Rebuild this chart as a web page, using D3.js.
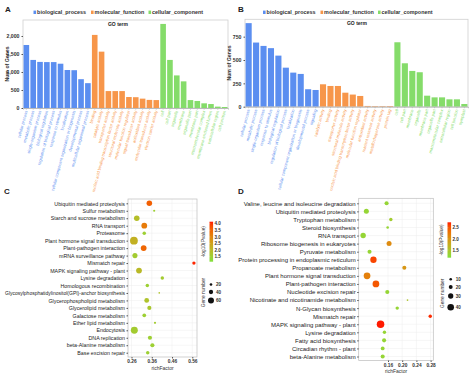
<!DOCTYPE html>
<html>
<head>
<meta charset="utf-8">
<script src="https://cdn.jsdelivr.net/npm/d3@7"></script>
<style>
  body { margin: 0; background: #fff; }
  svg { display: block; font-family: "Liberation Sans", Arial, sans-serif; }
</style>
</head>
<body>
<div id="chart"></div>
<script>
// ---------- GO bar data ----------
const categories = ["biological_process", "molecular_function", "cellular_component"];
const catColors = ["#5b8ef0", "#f7964a", "#85dc6a"];

const termsA_bp = ["cellular process", "metabolic process", "single-organism process", "biological regulation",
  "regulation of biological process", "response to stimulus", "localization",
  "cellular component organization or biogenesis", "developmental process", "multicellular organismal process"];
const termsA_mf = ["binding", "catalytic activity", "transporter activity", "nucleic acid binding transcription factor activity",
  "structural molecule activity", "molecular function regulator", "signal transducer activity",
  "antioxidant activity", "molecular transducer activity", "electron carrier activity"];
const termsA_cc = ["cell", "cell part", "organelle", "membrane", "organelle part", "membrane part",
  "macromolecular complex", "membrane-enclosed lumen", "extracellular region", "cell junction"];
const valuesA_bp = [1750, 1335, 1280, 1275, 1275, 1230, 1055, 1050, 800, 690];
const valuesA_mf = [2030, 1565, 470, 470, 470, 305, 300, 260, 225, 220];
const valuesA_cc = [2335, 1335, 905, 740, 220, 195, 130, 110, 38, 28];

const termsB_bp = ["cellular process", "metabolic process", "single-organism process", "response to stimulus",
  "biological regulation", "regulation of biological process", "localization",
  "cellular component organization or biogenesis", "developmental process", "signaling"];
const termsB_mf = ["catalytic activity", "binding", "transporter activity", "structural molecule activity",
  "nucleic acid binding transcription factor activity", "molecular function regulator",
  "antioxidant activity", "nutrient reservoir activity", "metallochaperone activity", "protein tag"];
const termsB_cc = ["cell", "cell part", "membrane", "organelle", "membrane part", "organelle part",
  "macromolecular complex", "extracellular region", "cell junction", "symplast"];
const valuesB_bp = [895, 687, 651, 627, 547, 418, 365, 351, 187, 179];
const valuesB_mf = [240, 222, 222, 150, 130, 115, 8, 6, 6, 7];
const valuesB_cc = [690, 465, 383, 369, 118, 100, 100, 79, 79, 29];

const ticksA = [0, 500, 1000, 1500, 2000];
const ticksB = [0, 250, 500, 750];

// ---------- KEGG bubble data ----------
const pathwaysC = ["Ubiquitin mediated proteolysis", "Sulfur metabolism", "Starch and sucrose metabolism",
  "RNA transport", "Proteasome", "Plant hormone signal transduction", "Plant-pathogen interaction",
  "mRNA surveillance pathway", "Mismatch repair", "MAPK signaling pathway - plant", "Lysine degradation",
  "Homologous recombination", "Glycosylphosphatidylinositol(GPI)-anchor biosynthesis",
  "Glycerophospholipid metabolism", "Glycerolipid metabolism", "Galactose metabolism",
  "Ether lipid metabolism", "Endocytosis", "DNA replication", "beta-Alanine metabolism", "Base excision repair"];
const richC = [0.348, 0.372, 0.286, 0.323, 0.323, 0.272, 0.320, 0.277, 0.568, 0.297, 0.412,
  0.338, 0.397, 0.335, 0.348, 0.323, 0.376, 0.274, 0.351, 0.363, 0.340];
const genesC = [55, 14, 55, 58, 30, 82, 58, 50, 28, 58, 30, 30, 8, 46, 38, 33, 14, 72, 38, 38, 30];
const pvalC = [3.6, 1.5, 1.9, 3.2, 1.5, 2.2, 3.5, 1.6, 4.1, 2.0, 1.6, 1.5, 1.8, 1.8, 1.7, 1.5, 1.6, 1.6, 1.5, 1.5, 1.5];
const xTicksC = [0.26, 0.36, 0.46, 0.56];
const pTicksC = [1.5, 2.0, 2.5, 3.0, 3.5, 4.0];
const sizeTicksC = [20, 40, 60];

const pathwaysD = ["Valine, leucine and isoleucine degradation", "Ubiquitin mediated proteolysis",
  "Tryptophan metabolism", "Steroid biosynthesis", "RNA transport", "Ribosome biogenesis in eukaryotes",
  "Pyruvate metabolism", "Protein processing in endoplasmic reticulum", "Propanoate metabolism",
  "Plant hormone signal transduction", "Plant-pathogen interaction", "Nucleotide excision repair",
  "Nicotinate and nicotinamide metabolism", "N-Glycan biosynthesis", "Mismatch repair",
  "MAPK signaling pathway - plant", "Lysine degradation", "Fatty acid biosynthesis",
  "Circadian rhythm - plant", "beta-Alanine metabolism"];
const richD = [0.156, 0.099, 0.168, 0.159, 0.090, 0.163, 0.108, 0.119, 0.206, 0.101, 0.126,
  0.158, 0.215, 0.186, 0.279, 0.139, 0.150, 0.149, 0.145, 0.145];
const genesD = [21, 28, 16, 10, 31, 28, 21, 38, 21, 41, 41, 21, 3, 16, 16, 47, 16, 21, 19, 21];
const pvalD = [1.3, 1.3, 1.4, 1.3, 1.3, 2.1, 1.3, 2.6, 2.0, 2.2, 2.5, 1.3, 1.5, 1.3, 2.7, 2.75, 1.3, 1.3, 1.3, 1.3];
const xTicksD = [0.16, 0.20, 0.24, 0.28];
const pTicksD = [1.5, 2.0, 2.5];
const sizeTicksD = [10, 20, 30, 40];

const width = 474, height = 375;
const svg = d3.select("#chart").append("svg")
  .attr("width", width).attr("height", height)
  .attr("viewBox", [0, 0, width, height]);

// panel letters
[["A", 5, 12], ["B", 238, 12], ["C", 4, 194], ["D", 238, 194]].forEach(([t, x, y]) => {
  svg.append("text").attr("x", x).attr("y", y).attr("font-size", 8).attr("font-weight", "bold")
    .attr("fill", "#222").text(t);
});

// ---------- bar panels ----------
function barPanel(opts) {
  const { left, right, top, bottom, ymax, ticks, bp, mf, cc, tbp, tmf, tcc, legendX, titleX } = opts;
  const rows = [];
  [tbp, tmf, tcc].forEach((terms, ci) => {
    const vals = [bp, mf, cc][ci];
    terms.forEach((t, i) => rows.push({ term: t, value: vals[i], cat: ci, key: ci + ":" + t }));
  });

  const x = d3.scaleBand().domain(rows.map(d => d.key)).range([left, right]).paddingInner(0.18).paddingOuter(0.08);
  const y = d3.scaleLinear().domain([0, ymax]).range([bottom, top]);
  const g = svg.append("g");

  // legend
  const lg = g.append("g").attr("transform", `translate(${legendX},14)`);
  let lx = 0;
  categories.forEach((c, i) => {
    lg.append("rect").attr("x", lx).attr("y", -3.4).attr("width", 2.6).attr("height", 3.4).attr("fill", catColors[i]);
    lg.append("text").attr("x", lx + 3.6).attr("y", 0).attr("font-size", 5.4).attr("font-weight", "bold")
      .attr("fill", "#333").text(c);
    lx += 57.5;
  });

  // frame
  g.append("rect").attr("x", left).attr("y", top).attr("width", right - left).attr("height", bottom - top)
    .attr("fill", "none").attr("stroke", "#d0d0d0").attr("stroke-width", 0.8);
  g.append("text").attr("x", titleX).attr("y", top + 5.5).attr("text-anchor", "middle")
    .attr("font-size", 5).attr("font-weight", "bold").attr("fill", "#222").text("GO term");

  g.selectAll("rect.bar").data(rows).join("rect").attr("class", "bar")
    .attr("x", d => x(d.key)).attr("width", x.bandwidth())
    .attr("y", d => y(d.value)).attr("height", d => y(0) - y(d.value))
    .attr("fill", d => catColors[d.cat]);

  // y axis
  const ya = g.append("g").attr("transform", `translate(${left},0)`)
    .call(d3.axisLeft(y).tickValues(ticks).tickSize(1.5).tickPadding(2));
  ya.select(".domain").remove();
  ya.selectAll("line").attr("stroke", "#555");
  ya.selectAll("text").attr("font-size", 5.2).attr("font-weight", "bold").attr("fill", "#333")
    .attr("font-family", "Liberation Sans, Arial, sans-serif");
  g.append("text").attr("transform", `translate(${left - 14},${(top + bottom) / 2}) rotate(-90)`)
    .attr("text-anchor", "middle").attr("font-size", 5.2).attr("font-weight", "bold").attr("fill", "#333")
    .text("Num of Genes");

  // x labels
  const xa = g.append("g").attr("transform", `translate(0,${bottom})`)
    .call(d3.axisBottom(x).tickSize(1.5).tickFormat(k => k.split(":")[1]));
  xa.select(".domain").attr("stroke", "#bbb");
  xa.selectAll("line").attr("stroke", "#bbb");
  xa.selectAll("text")
    .attr("font-size", 4.1).attr("font-family", "Liberation Sans, Arial, sans-serif")
    .attr("fill", k => catColors[+k.split(":")[0]])
    .attr("text-anchor", "end").attr("dy", 0).attr("dx", 0)
    .attr("transform", "translate(1.2,3) rotate(-75)")
    .attr("y", 0).attr("x", 0);
}

barPanel({ left: 23, right: 228, top: 20, bottom: 108, ymax: 2444, ticks: ticksA,
  bp: valuesA_bp, mf: valuesA_mf, cc: valuesA_cc, tbp: termsA_bp, tmf: termsA_mf, tcc: termsA_cc,
  legendX: 33.5, titleX: 118 });
barPanel({ left: 245, right: 468, top: 19.3, bottom: 106.7, ymax: 936, ticks: ticksB,
  bp: valuesB_bp, mf: valuesB_mf, cc: valuesB_cc, tbp: termsB_bp, tmf: termsB_mf, tcc: termsB_cc,
  legendX: 263, titleX: 357 });

// ---------- bubble panels ----------
const lowCol = "#80e03c", highCol = "#ff1a00";

function bubblePanel(opts) {
  const { paths, rich, genes, pval, xTicks, pTicks, sTicks, box, xDom, xRng, rowTop, rowBot,
    fontSize, labelRoom, pDom, cbar, sizeDom, sizeRng, sizeLeg } = opts;
  const g = svg.append("g");
  const x = d3.scaleLinear().domain(xDom).range(xRng);
  const y = d3.scalePoint().domain(paths).range([rowTop, rowBot]);
  const color = d3.scaleLinear().domain(pDom).range([lowCol, highCol]).interpolate(d3.interpolateLab).clamp(true);
  const r = d3.scaleLinear().domain(sizeDom).range(sizeRng);

  g.append("rect").attr("x", box[0]).attr("y", box[1]).attr("width", box[2] - box[0]).attr("height", box[3] - box[1])
    .attr("fill", "#fff");
  // grid
  g.append("g").selectAll("line").data(paths).join("line")
    .attr("x1", box[0]).attr("x2", box[2]).attr("y1", d => y(d)).attr("y2", d => y(d))
    .attr("stroke", "#ececec").attr("stroke-width", 0.5);
  g.append("g").selectAll("line").data(xTicks).join("line")
    .attr("y1", box[1]).attr("y2", box[3]).attr("x1", d => x(d)).attr("x2", d => x(d))
    .attr("stroke", "#ececec").attr("stroke-width", 0.5);
  g.append("rect").attr("x", box[0]).attr("y", box[1]).attr("width", box[2] - box[0]).attr("height", box[3] - box[1])
    .attr("fill", "none").attr("stroke", "#bdbdbd").attr("stroke-width", 0.7);

  // points
  const pts = paths.map((p, i) => ({ p, rich: rich[i], genes: genes[i], pv: pval[i] }));
  g.append("g").selectAll("circle").data(pts).join("circle")
    .attr("cx", d => x(d.rich)).attr("cy", d => y(d.p)).attr("r", d => r(d.genes))
    .attr("fill", d => color(d.pv));

  // axes
  const ya = g.append("g").attr("transform", `translate(${box[0]},0)`)
    .call(d3.axisLeft(y).tickSize(1.5).tickPadding(1.5));
  ya.select(".domain").remove();
  ya.selectAll("line").attr("stroke", "#555");
  ya.selectAll("text").attr("font-size", fontSize).attr("fill", "#222")
    .attr("font-family", "Liberation Sans, Arial, sans-serif")
    .each(function () {
      // squeeze labels that would run past the left edge
      if (this.getComputedTextLength() > labelRoom) {
        d3.select(this).attr("textLength", labelRoom).attr("lengthAdjust", "spacingAndGlyphs");
      }
    });

  const xa = g.append("g").attr("transform", `translate(0,${box[3]})`)
    .call(d3.axisBottom(x).tickValues(xTicks).tickFormat(d3.format(".2f")).tickSize(1.5).tickPadding(1.5));
  xa.select(".domain").remove();
  xa.selectAll("line").attr("stroke", "#555");
  xa.selectAll("text").attr("font-size", 4.8).attr("font-weight", "bold").attr("fill", "#333")
    .attr("font-family", "Liberation Sans, Arial, sans-serif");
  g.append("text").attr("x", (box[0] + box[2]) / 2).attr("y", box[3] + 12.5).attr("text-anchor", "middle")
    .attr("font-size", 5).attr("fill", "#333").text("richFactor");

  // color bar
  const cb = cbar;
  const cy = d3.scaleLinear().domain(pDom).range([cb.y1, cb.y0]);
  const gid = "grad" + Math.round(cb.x);
  const grad = svg.append("defs").append("linearGradient").attr("id", gid)
    .attr("x1", 0).attr("y1", 1).attr("x2", 0).attr("y2", 0);
  d3.range(0, 1.0001, 0.1).forEach(t => {
    grad.append("stop").attr("offset", t).attr("stop-color", color(pDom[0] + t * (pDom[1] - pDom[0])));
  });
  g.append("rect").attr("x", cb.x).attr("y", cb.y0).attr("width", 3.6).attr("height", cb.y1 - cb.y0)
    .attr("fill", `url(#${gid})`);
  g.append("g").selectAll("text").data(pTicks).join("text")
    .attr("x", cb.x + 5).attr("y", d => cy(d) + 1.7).attr("font-size", 4.6).attr("font-weight", "bold")
    .attr("fill", "#333").text(d => d.toFixed(1));
  g.append("g").selectAll("line").data(pTicks).join("line")
    .attr("x1", cb.x).attr("x2", cb.x + 0.8).attr("y1", d => cy(d)).attr("y2", d => cy(d))
    .attr("stroke", "#fff").attr("stroke-width", 0.4);
  g.append("text").attr("transform", `translate(${cb.x - 4.5},${(cb.y0 + cb.y1) / 2}) rotate(-90)`)
    .attr("text-anchor", "middle").attr("font-size", 4.8).attr("fill", "#333").text("-log10(Pvalue)");

  // size legend
  const sl = sizeLeg;
  const sg = g.append("g");
  sTicks.forEach((s, i) => {
    const yy = sl.y[i];
    sg.append("circle").attr("cx", sl.x).attr("cy", yy).attr("r", r(s)).attr("fill", "#111");
    sg.append("text").attr("x", sl.x + 5).attr("y", yy + 1.7).attr("font-size", 4.6).attr("font-weight", "bold")
      .attr("fill", "#333").text(s);
  });
  g.append("text").attr("transform", `translate(${sl.x - 6.5},${(sl.y[0] + sl.y[sl.y.length - 1]) / 2}) rotate(-90)`)
    .attr("text-anchor", "middle").attr("font-size", 4.8).attr("fill", "#333").text("Gene number");
}

bubblePanel({ paths: pathwaysC, rich: richC, genes: genesC, pval: pvalC, xTicks: xTicksC, pTicks: pTicksC,
  sTicks: sizeTicksC, box: [128, 199, 197, 357], xDom: [0.26, 0.56], xRng: [131.5, 192.3],
  rowTop: 203.3, rowBot: 352.7, fontSize: 5.3, labelRoom: 120, pDom: [1.12, 4.15],
  cbar: { x: 209.5, y0: 221.7, y1: 261.7 }, sizeDom: [10, 70], sizeRng: [0.9, 3.4],
  sizeLeg: { x: 211, y: [284.5, 292, 300.5] } });

bubblePanel({ paths: pathwaysD, rich: richD, genes: genesD, pval: pvalD, xTicks: xTicksD, pTicks: pTicksD,
  sTicks: sizeTicksD, box: [358.7, 198.3, 433.3, 360.5], xDom: [0.16, 0.28], xRng: [388, 430.6],
  rowTop: 203.3, rowBot: 356.5, fontSize: 6.0, labelRoom: 118, pDom: [1.16, 2.74],
  cbar: { x: 447.5, y0: 222.3, y1: 257.7 }, sizeDom: [10, 40], sizeRng: [1.3, 3.3],
  sizeLeg: { x: 450.7, y: [279.3, 287, 296, 307.3] } });
</script>
</body>
</html>
